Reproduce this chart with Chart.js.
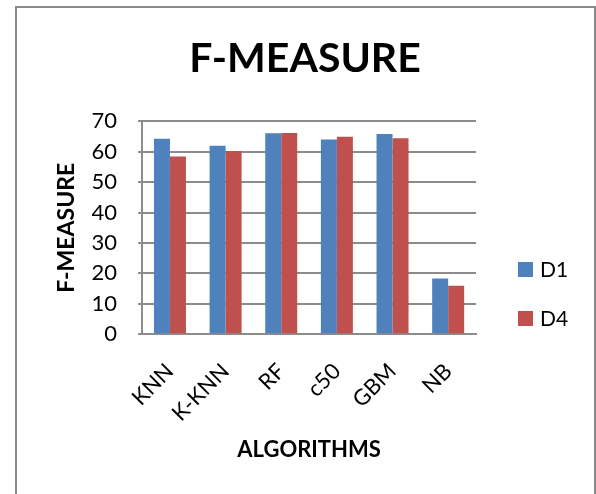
<!DOCTYPE html>
<html>
<head>
<meta charset="utf-8">
<script src="https://cdn.jsdelivr.net/npm/chart.js@4/dist/chart.umd.min.js"></script>
<style>
  html, body { margin: 0; padding: 0; background: #fff; overflow: hidden; }
  #wrap { position: relative; width: 596px; height: 494px; }
  #frame { position: absolute; left: 15px; top: 6px; width: 581px; height: 520px;
           border: 2px solid #8a8a8a; box-sizing: border-box; pointer-events: none; }
  canvas { position: absolute; left: 0; top: 0; }
</style>
</head>
<body>
<div id="wrap">
  <canvas id="c" width="596" height="494"></canvas>
  <div id="frame"></div>
</div>
<script>
// F-measure per algorithm for datasets D1 and D4
const algorithms = ['KNN', 'K-KNN', 'RF', 'c50', 'GBM', 'NB'];
const d1Values = [64.2, 61.9, 66.0, 64.0, 65.8, 18.3];
const d4Values = [58.4, 60.2, 66.1, 64.9, 64.4, 15.9];
const yTicks = [0, 10, 20, 30, 40, 50, 60, 70];

const FONT = 'Lato, "Open Sans", sans-serif';
const GRID = '#8c8c8c';

// Right-hand legend as a layout box: reserves a fixed-width column beside the
// plot and lists each dataset with a colour square.
const sideLegend = {
  id: 'sideLegend',
  beforeInit(chart) {
    const box = {
      position: 'right',
      weight: 100,
      fullSize: false,
      options: {},
      width: 0,
      height: 0,
      isHorizontal() { return false; },
      update(maxWidth, maxHeight) { this.width = 106; this.height = maxHeight; },
      draw() {
        const ctx = chart.ctx;
        const sq = 15, gap = 7, rowGap = 49, firstTop = 262;
        ctx.save();
        ctx.font = '21px ' + FONT;
        ctx.textBaseline = 'middle';
        ctx.textAlign = 'left';
        chart.data.datasets.forEach((ds, i) => {
          const x = this.left + 42;
          const y = firstTop + i * rowGap;
          ctx.fillStyle = ds.backgroundColor;
          ctx.fillRect(x, y, sq, sq);
          ctx.fillStyle = '#000';
          ctx.fillText(ds.label, x + sq + gap, y + sq / 2 + 1);
        });
        ctx.restore();
      }
    };
    Chart.layouts.addBox(chart, box);
  }
};

new Chart(document.getElementById('c'), {
  type: 'bar',
  data: {
    labels: algorithms,
    datasets: [
      { label: 'D1', data: d1Values, backgroundColor: '#4F81BD',
        barPercentage: 1.0, categoryPercentage: 0.575 },
      { label: 'D4', data: d4Values, backgroundColor: '#C0504D',
        barPercentage: 1.0, categoryPercentage: 0.575 }
    ]
  },
  plugins: [sideLegend],
  options: {
    responsive: false,
    devicePixelRatio: 1,
    animation: false,
    layout: { padding: { left: 28, right: 14, top: 0, bottom: 25 } },
    plugins: {
      title: {
        display: true,
        text: 'F-MEASURE',
        color: '#000',
        font: { family: FONT, size: 41, weight: 'bold' },
        padding: { top: 34, bottom: 38 }
      },
      legend: { display: false },
      tooltip: { enabled: false }
    },
    scales: {
      x: {
        grid: { display: false, drawTicks: false },
        border: { display: true, color: GRID, width: 2 },
        ticks: {
          color: '#000',
          font: { family: FONT, size: 22 },
          minRotation: 45,
          maxRotation: 45,
          autoSkip: false,
          padding: 24
        },
        title: {
          display: true,
          text: 'ALGORITHMS',
          color: '#000',
          font: { family: FONT, size: 22, weight: 'bold' },
          padding: { top: -14, bottom: 6 }
        }
      },
      y: {
        min: 0,
        max: 70,
        afterBuildTicks: (axis) => { axis.ticks = yTicks.map(v => ({ value: v })); },
        grid: { color: GRID, lineWidth: 2, tickLength: 4, drawTicks: true },
        border: { display: true, color: GRID, width: 2 },
        ticks: {
          color: '#000',
          font: { family: FONT, size: 22 },
          autoSkip: false,
          padding: 21
        },
        title: {
          display: true,
          text: 'F-MEASURE',
          color: '#000',
          font: { family: FONT, size: 23, weight: 'bold' },
          padding: { top: 25, bottom: -10 }
        }
      }
    }
  }
});
</script>
</body>
</html>
